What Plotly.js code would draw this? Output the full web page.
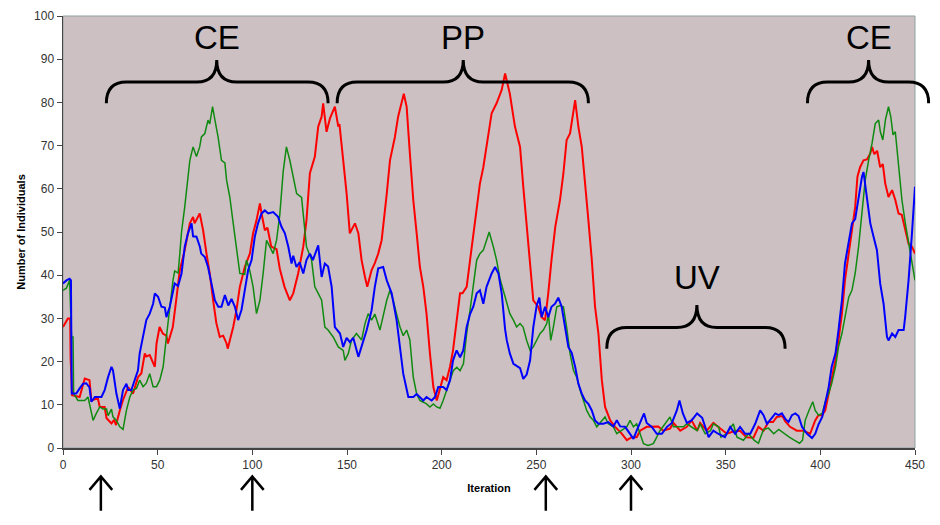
<!DOCTYPE html>
<html>
<head>
<meta charset="utf-8">
<script src="https://cdn.plot.ly/plotly-3.0.1.min.js"></script>
<style>html,body{margin:0;padding:0;background:#fff;}#chart{width:940px;height:525px;}</style>
</head>
<body>
<div id="chart"></div>
<script>
// ---- Data ----
const redX = [0,2.6,3.8,4,4.8,8.8,11.5,14,15,18.4,19.4,22,23,25.6,27,28,30,31.6,34.4,37,39.6,41.4,43.2,44,45.8,48.5,49.4,51,52.7,54.6,55.4,58,60,61.7,64.3,67,68.7,69.5,72.2,74,75.8,77.5,79.3,81,82.8,84.6,86.4,87,89.9,91.6,93.4,96,98.7,100.4,102.2,104,105,106.6,108,110,112.8,114.5,117,119.8,121.6,124.2,126.9,128.6,130.4,133,134.8,136.6,137.4,138.3,139.2,141,143.6,145.4,146,148,149.8,151.5,154.2,156,157.7,159.5,160.7,163,164.7,166.5,168.3,171,172.7,175.3,177,180,181.5,183.2,185,186.8,188.5,190.3,192,193.8,195.6,197.4,199,200.8,202.6,204.4,206,208,209.7,211,213.2,215,216.7,218.5,220.2,222,224.6,226.4,229,231.7,233.5,236,238.7,241.4,243.1,245,246.7,248.4,251,252.8,254.6,256.3,258,260,262.5,264.3,266,267.8,270.5,272.2,274,275.7,277.5,279.3,281,282.8,284.6,286.3,289,291.6,295,297.8,300.4,303,304.8,308.3,311.8,314.4,317,320.6,322.4,326,329.5,332,335,336.5,340,343.5,346,350.6,354,357.6,361,364.7,367.3,370,372.6,375,377,380,381.4,384,387.6,391,394.6,397.3,399,401,402.6,404.4,406,408,409.6,411.4,413,415,416.7,418.4,419.6,421,422.8,424.6,426.4,427.3,428.5,430,431.6,433,434.3,436,437.9,439.6,441.3,443,444.8,446.6,448.4,450];
const redY = [28,30,30,21,12.2,11.8,16.1,15.7,11,11.5,9.5,9.5,6.9,5.7,6.5,5.3,8.7,11,14.1,12.6,16.4,17.3,21.9,21.2,21.5,18.8,24.2,28,26.5,26,24.2,28,35,41.2,45.8,52,53.5,52,54.3,50.4,45,40.4,34.2,28.9,25.7,26,24.2,23,28,31.9,37.3,41.9,45,49.7,52.7,56.6,54,50.4,51,46.6,46,41.5,37.3,34.2,35.8,40.4,46.6,52.7,63.6,67.4,74.4,76.7,79.8,77,73.2,76.3,79,74.4,75,66.6,58.9,49.7,52,49.7,43.5,39.6,37.3,41.2,42.8,45,48.1,58.9,66.6,72,76.7,82,79,68.2,57.4,49.7,41.9,37.3,31.1,21.9,14.1,11,13.4,16.4,15.7,18.8,22.6,29.6,35.8,35.8,37.3,43.5,49.7,55.8,61.2,65,72,77.5,79.8,82.9,86.7,82,74.4,69.7,60.5,51.2,43.5,34.2,32.7,30.3,29.6,35.8,43.5,51.2,57.4,63.6,71.3,72.8,80.5,74.4,69.7,62,52.7,43.5,32.7,26.5,15.7,9.5,6.4,4.9,3.4,1.8,2.5,2.5,4,4.9,4.9,5,4,4.5,5.8,4,4.9,6.4,4,5.8,4,5.8,4.9,3.3,3.8,4,2.5,2.4,4.9,4,6,6,7.2,7.4,6.2,4.9,4,4,3.3,6.4,7.6,7.6,8.7,12.6,15.7,20.3,25,31.1,38.8,45.8,50.4,55.8,62.8,65,66.6,66.8,68.2,69.7,68,68.8,65,65.7,61.2,58.1,59.7,57.4,54.3,54,50.4,47.3,46.6,45];

const blueX = [0,1.8,3.5,4.2,4.6,7,8.8,10.6,12.3,14,15,16.8,20.3,22,23.8,25.6,26.4,28.2,30,31.7,33.5,34.4,36.1,37.9,39.6,40.5,42.3,44,45.8,47.6,48.5,50.2,52,53.8,54.6,56.4,59,60.8,62.6,64.3,66,67.9,68.7,70.5,72.3,73,74.9,76.6,78.4,80.2,82,83.7,85.5,87.3,89,90.8,92.5,94.3,96,97.8,99.6,101.3,103,104.9,106.6,108.4,111,113.6,115.4,117.2,119,120.7,121.6,123.3,125,126.9,128.6,130.4,132,134.8,136.6,138.3,140,141.9,143.6,146.3,148,149.8,151.5,153.3,156,157.7,160.4,163,164.7,166.5,169.1,171,173.6,176.2,178,179.7,182.4,185,186.8,188.5,190.3,192,194.7,196.5,198.2,200.8,202.6,204.4,206,207.9,209.7,211.4,213.2,215,216.7,218.5,220.2,222,223.7,226.4,228.2,230,231.7,233.5,234.4,236,237.9,239.6,241.4,243.1,244.9,246.7,248.4,250.2,251.6,252.8,254.6,256.3,258,259.9,261.6,263.4,265.2,266.9,268.7,270.5,272.2,274,275.7,277.5,279.3,281,282.8,285.4,288,290.7,292.5,294.3,296.9,299.5,301.3,303,304.8,306.9,308.3,311,313.6,316.3,319,321.6,324.2,325.6,327.4,329.5,332,334.9,337.6,339.2,341,343.5,346,349.6,352.4,355,357.6,360.3,363,365.6,368.2,370,371.8,374.4,376.2,378,379.7,381.4,383.2,385,386.8,388.5,390.3,393,395.6,397.3,399,401,402.6,404.4,406,408,409.6,411.4,413,415,416.7,418.4,420.2,422,422.8,424.6,426.4,428.1,429.9,431.6,433.4,435.2,436,437.9,439.6,441.3,444,444.8,446.6,448.4,450];
const blueY = [38.1,38.8,39.2,38.8,12.6,12.6,13.8,14.9,15,14,10.7,11.8,11.8,13.4,16.4,18.8,18,12.6,9.1,13.4,14.9,13.4,13.4,15.7,18,21.9,25.7,29.6,31.1,33.4,35.8,35,32.7,32.5,30.3,32.7,38.1,37.5,40.4,46.6,49.7,52,49,48.9,46.6,45,44.2,41.9,38.1,34.2,32.7,32.7,35.4,33,34.5,32.7,29.6,32,36.5,41.2,43.5,48.9,52,54.3,55,54.3,54.6,53.5,51.2,49.7,46.6,42.7,44.5,41.9,43,40.4,43.5,45,43.5,46.9,39.6,42.7,42,37.3,28,26.5,23.4,25.5,24.5,25.5,21.1,23.4,27.3,31.9,37.3,41.6,41.9,38.8,35.8,29.6,23.4,17.2,11.8,11.8,12.5,11.8,11,11.8,11,11.8,14.1,14.1,13.4,15.7,20.3,22.6,21,22.6,28,31,32.7,35.8,36.5,33.4,37.3,40.4,41.9,40.4,35.8,27.5,24.9,21.9,19.5,19,18.5,16,17,20.3,28,33,34.8,30.3,32.7,30.3,32.7,33.4,34.8,32.7,28,23.4,22,18.8,14.9,12.6,11,10.2,8.7,6.4,5.6,5.6,6,5,6.4,5,4.9,3.3,2.1,4,5.8,8,5.8,4.9,3.3,3.3,4.9,5.8,8.7,11,8,5.8,6.4,8,7,4.9,2.5,4,3.3,2.5,4.9,3.3,4.9,3.3,3.3,5.6,8.7,7.6,5.6,7,8,7.6,8,6.8,6,7.6,8,7.4,4.9,3.3,2.3,3.3,5.4,7.2,10.3,14.1,18.8,21.9,27.3,34.2,42.7,47.3,52,53,58.1,62.8,63.9,58.1,52,48.9,45.8,38.1,33.4,25.7,24.9,26.5,25.7,27.3,27.3,30.3,38.8,49.7,60.5];

const greenX = [0,1.8,3.5,4.5,5.3,5.6,7.9,11.5,13.2,15,15.9,17.6,19.4,21.2,23,23.8,25.6,26.4,28.2,30,31.7,33.5,35.3,37,38.8,40.5,42.3,44,45.8,47.6,49.4,51.1,52.9,54.6,56.4,58.1,59,60.8,61.7,62.6,64.3,66,67,68.7,70.5,72.2,73.1,74.9,76.6,77.5,79,80.2,81.9,83.7,85.5,86.4,88.1,89.9,91.6,93.4,96,96.9,98.7,100.4,102.2,104,105.7,107.5,109.2,111,112.8,114.5,116.3,118,119.8,121.6,123.4,126,127.7,128.6,131.3,133,134.8,136.6,138.3,140,142.7,145.4,148,148.9,150.7,152.4,155,157.7,159.5,161.2,163,164.7,167.4,169.2,171,172.7,174.4,176.2,178,179.7,181.5,183.2,185,186.8,188.5,190.3,192,193.8,195.6,197.4,199.1,200.8,202.6,204.4,206.1,208,209.7,211.5,213.2,215,216.7,218.5,220.2,222,223.7,225.1,227.3,229,230.8,232.6,234.4,236,237.9,239.6,241.4,243,244.9,246.7,248.4,250.2,252,253.7,255.5,256.4,257.6,259,260.8,262.5,264.3,266,267.8,269.6,271.3,273.1,274.9,276.6,278.4,280.2,281.9,284.6,286.3,288,290.7,292.5,295,297.8,299.5,301.3,303,304.8,306.6,309,311.8,313.6,315.3,318,320.6,322.4,325,327.7,329.5,332,334.9,336.5,339.2,342,343.5,346.3,347.5,350.6,354,356,359.4,362,365,367.3,370,372.6,375.4,378,381,383.6,386.2,389,390.6,392,394,396,397.3,399,401,402.6,404.4,406,408,409.6,411.4,413.2,415,416.7,418.4,420.2,422,423.7,425.5,427.3,429,430.8,431.7,433,434.4,436,437.2,438.4,439.6,441.3,443.1,444.9,446.6,448.4,450];
const greenY = [36.5,37,38.8,25.7,25.7,12.6,11,11,11.8,8,6.4,8,9.5,9,9,7.5,9,7.2,6.4,4.9,4.3,8.7,11.8,13.4,13.8,15.7,14.2,15,17.2,14.2,14.2,15.7,18.8,25.7,32.7,38.8,41,40.5,45,50,55.8,62,66.6,69.7,67.5,69.7,72,72.8,75.9,75,79,76,72,66.6,66,62,58.1,52,46.6,40.4,40.2,43.5,41,37.3,31.1,34.2,40.4,48.1,46.6,45,48.1,54,64,69.7,66.6,62.8,58.9,58,51.2,46.6,43.5,37.3,35.8,34.2,28,27.3,25.7,23.4,22.6,20.3,21.9,25,26.5,25,28.8,31.1,29.6,31,27.3,31,34.2,36.5,34.2,31,28,26,27.3,25,16.4,12.5,11,10.6,10.2,9.5,10.2,9.5,9.2,11,13.4,15.7,17.9,18.7,17.9,19.5,26.5,31.9,37.3,43.5,45,45.8,48.1,50,46.6,43.5,39.2,36.5,33.5,31.1,29.6,28,28.8,28,24.9,22.6,23.4,24.9,26.5,27.3,28.8,31,24.9,28,32.7,33,32.7,28,21.9,18,16.4,13.4,11,8.7,7.2,6.4,4.9,6.4,7.2,5.6,4.9,3.3,4,4.9,6.4,4.9,5.6,3.3,1,0.6,1,2.5,4,5.6,7.2,4.9,4.9,4.9,5.6,4.9,4,5.6,3.3,4,5.6,4.9,2.5,3.3,5.6,2.5,1.8,3.3,1.8,1.1,4.3,4.6,3.3,4.3,3.3,2.5,1.8,1.1,1.8,6.4,8.7,10.7,8.7,7.6,8,10.7,12.6,14.9,18.8,23.4,26.5,31.1,34.9,36.5,40.4,46.6,55,62,66.6,70.5,75.1,75.9,73.2,71.3,76,79,76.7,72.5,73.2,65,57.4,52,47.3,42.7,38.8];

// Phase labels and braces (iteration units; heights as fraction of plot height)
const phaseLabels = ["CE", "PP", "UV", "CE"];
const braceLeft  = [22.9, 144.8, 287.2, 393.2];
const braceTip   = [81.2, 211.4, 334.8, 425.5];
const braceRight = [140.0, 277.5, 381.4, 457.2];
const braceEndY  = [0.798, 0.798, 0.230, 0.798];
const braceBarY  = [0.847, 0.847, 0.279, 0.847];
const braceTipY  = [0.898, 0.898, 0.331, 0.898];
const labelY     = [0.951, 0.951, 0.395, 0.951];
// Arrows marking event iterations
const arrowIters = [20, 100, 255, 300];

const X_MAX = 450;
const px = v => v / X_MAX;  // iteration -> paper fraction

function bracePath(i) {
  const xl = px(braceLeft[i]), xt = px(braceTip[i]), xr = px(braceRight[i]);
  const ye = braceEndY[i], yb = braceBarY[i], yt = braceTipY[i];
  const r = 20 / 852; // ~20px horizontal radius
  return `M ${xl},${ye} Q ${xl},${yb} ${xl + r},${yb} L ${xt - r},${yb} Q ${xt},${yb} ${xt},${yt} ` +
         `Q ${xt},${yb} ${xt + r},${yb} L ${xr - r},${yb} Q ${xr},${yb} ${xr},${ye}`;
}

const shapes = [];
const annotations = [];
for (let i = 0; i < phaseLabels.length; i++) {
  shapes.push({type: 'path', xref: 'paper', yref: 'paper', path: bracePath(i),
               line: {color: '#000', width: 3}});
  annotations.push({xref: 'x', yref: 'paper', x: braceTip[i], y: labelY[i], text: phaseLabels[i],
                    showarrow: false, font: {family: 'Arial, Liberation Sans, sans-serif', size: 33, color: '#000'},
                    xanchor: 'center', yanchor: 'middle'});
}
const hw = 6; // half width of arrow head in iterations
arrowIters.forEach(a => {
  shapes.push({type: 'path', xref: 'x', yref: 'paper',
               path: `M ${a},-0.145 L ${a},-0.066 M ${a - hw},-0.097 L ${a},-0.066 L ${a + hw},-0.097`,
               line: {color: '#000', width: 2.5}});
});
// plot area border (thin grey)
shapes.push({type: 'rect', xref: 'paper', yref: 'paper', x0: 0, x1: 1, y0: 0, y1: 1,
             line: {color: '#8fa0a0', width: 1}, layer: 'below'});

const traces = [
  {x: redX, y: redY, type: 'scatter', mode: 'lines', line: {color: '#ff0000', width: 2}, name: 'Red'},
  {x: greenX, y: greenY, type: 'scatter', mode: 'lines', line: {color: '#108a10', width: 1.5}, name: 'Green'},
  {x: blueX, y: blueY, type: 'scatter', mode: 'lines', line: {color: '#0000ff', width: 2}, name: 'Blue'}
];

const axisFont = {family: 'Arial, Liberation Sans, sans-serif', size: 12, color: '#333'};
const layout = {
  width: 940, height: 525,
  margin: {l: 63, r: 25, t: 16, b: 77},
  paper_bgcolor: '#ffffff',
  plot_bgcolor: '#ccc0c3',
  showlegend: false,
  xaxis: {
    range: [0, X_MAX], tickmode: 'linear', tick0: 0, dtick: 50,
    showgrid: false, zeroline: false, showline: true, linecolor: '#444', linewidth: 1.5,
    ticks: 'outside', ticklen: 5, tickcolor: '#444', tickfont: axisFont,
    title: {text: '<b>Iteration</b>', font: {family: 'Arial, Liberation Sans, sans-serif', size: 11, color: '#000'}, standoff: 13}
  },
  yaxis: {
    range: [0, 100], tickmode: 'linear', tick0: 0, dtick: 10,
    showgrid: false, zeroline: false, showline: true, linecolor: '#444', linewidth: 1.5,
    ticks: 'outside', ticklen: 5, tickcolor: '#444', tickfont: axisFont,
    title: {text: '<b>Number of Individuals</b>', font: {family: 'Arial, Liberation Sans, sans-serif', size: 11, color: '#000'}, standoff: 6}
  },
  shapes: shapes,
  annotations: annotations
};

Plotly.newPlot('chart', traces, layout, {staticPlot: true, displayModeBar: false});
</script>
</body>
</html>
